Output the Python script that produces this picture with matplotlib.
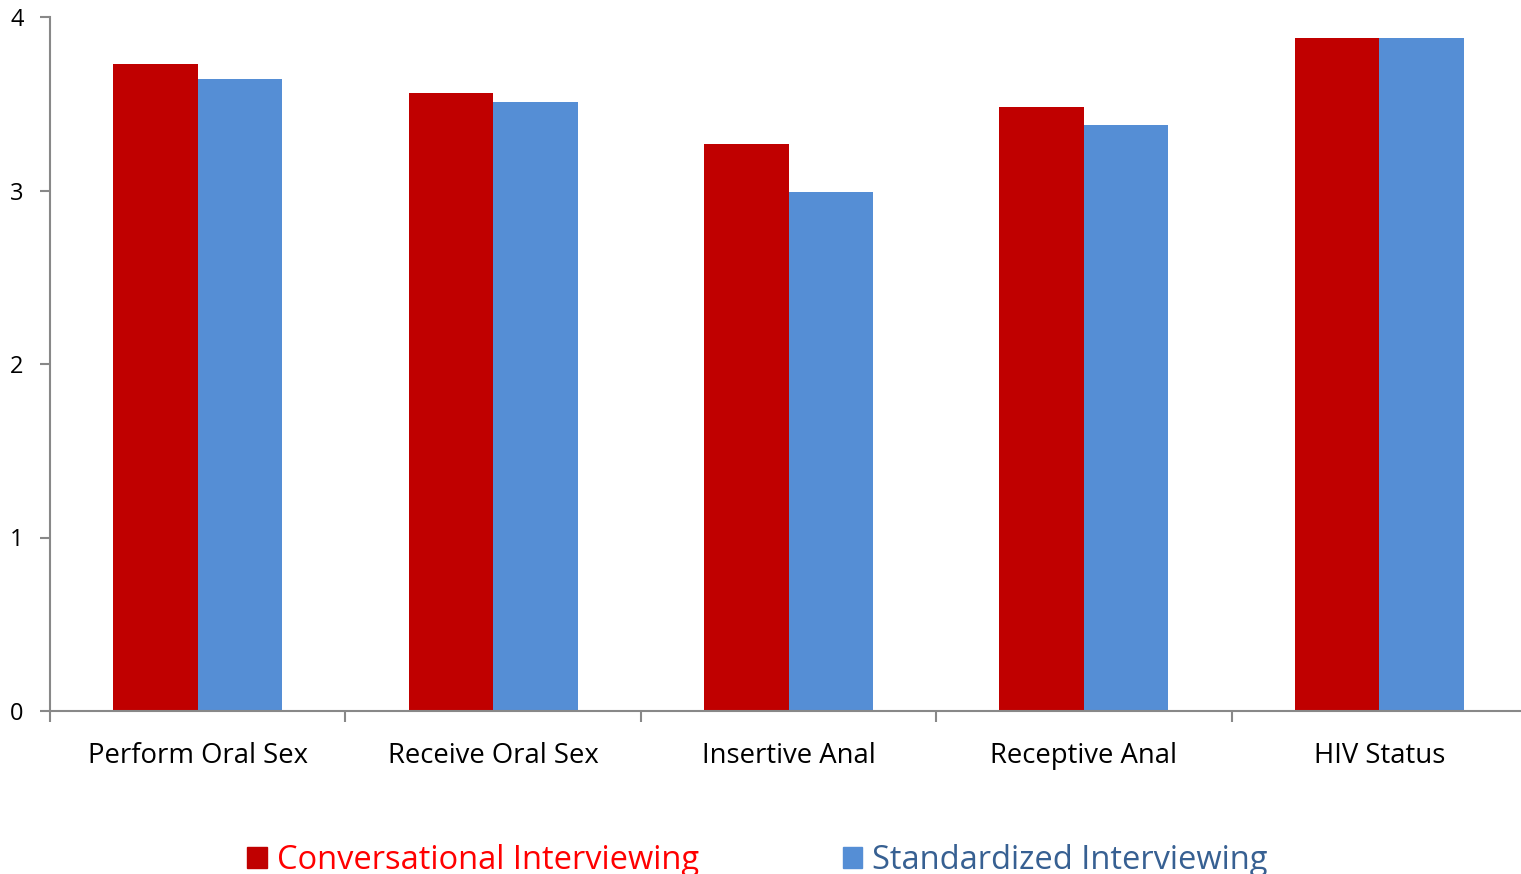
import numpy as np
import matplotlib.pyplot as plt
from matplotlib.patches import Patch

plt.rcParams['font.family'] = ['Open Sans', 'DejaVu Sans']

categories = ['Perform Oral Sex', 'Receive Oral Sex', 'Insertive Anal', 'Receptive Anal', 'HIV Status']
conversational = [3.73, 3.56, 3.27, 3.48, 3.88]
standardized = [3.64, 3.51, 2.99, 3.38, 3.88]

RED = '#C00000'
BLUE = '#558ED5'

fig = plt.figure(figsize=(15.21, 8.74), dpi=100)
ax = fig.add_axes([50 / 1521, 163 / 874, 1477 / 1521, 694 / 874])

x = np.arange(len(categories))
w = 0.286
ax.bar(x - w / 2, conversational, w, color=RED)
ax.bar(x + w / 2, standardized, w, color=BLUE)

ax.set_xlim(-0.5, len(categories) - 0.5)
ax.set_ylim(0, 4)
ax.set_yticks([0, 1, 2, 3, 4])
ax.set_xticks(x)
ax.set_xticklabels(categories, fontsize=19.8)
ax.set_xticks(np.arange(len(categories) + 1) - 0.5, minor=True)
ax.tick_params(axis='x', which='major', length=0, pad=22)
ax.tick_params(axis='x', which='minor', length=8, color='#888888', width=1.5)
ax.tick_params(axis='y', length=7, color='#888888', width=1.5, labelsize=17, pad=12)

for s in ['top', 'right']:
    ax.spines[s].set_visible(False)
for s in ['left', 'bottom']:
    ax.spines[s].set_color('#888888')
    ax.spines[s].set_linewidth(1.5)

handles = [Patch(color=RED), Patch(color=BLUE)]
leg = fig.legend(handles, ['Conversational Interviewing', 'Standardized Interviewing'],
                 loc='lower center', bbox_to_anchor=(0.498, -0.037), ncol=2,
                 frameon=False, fontsize=23.5, handlelength=0.6, handleheight=0.6,
                 handletextpad=0.3, columnspacing=4.4)
for t, c in zip(leg.get_texts(), ['#FF0000', '#376092']):
    t.set_color(c)

fig.savefig('out.png', dpi=100)
